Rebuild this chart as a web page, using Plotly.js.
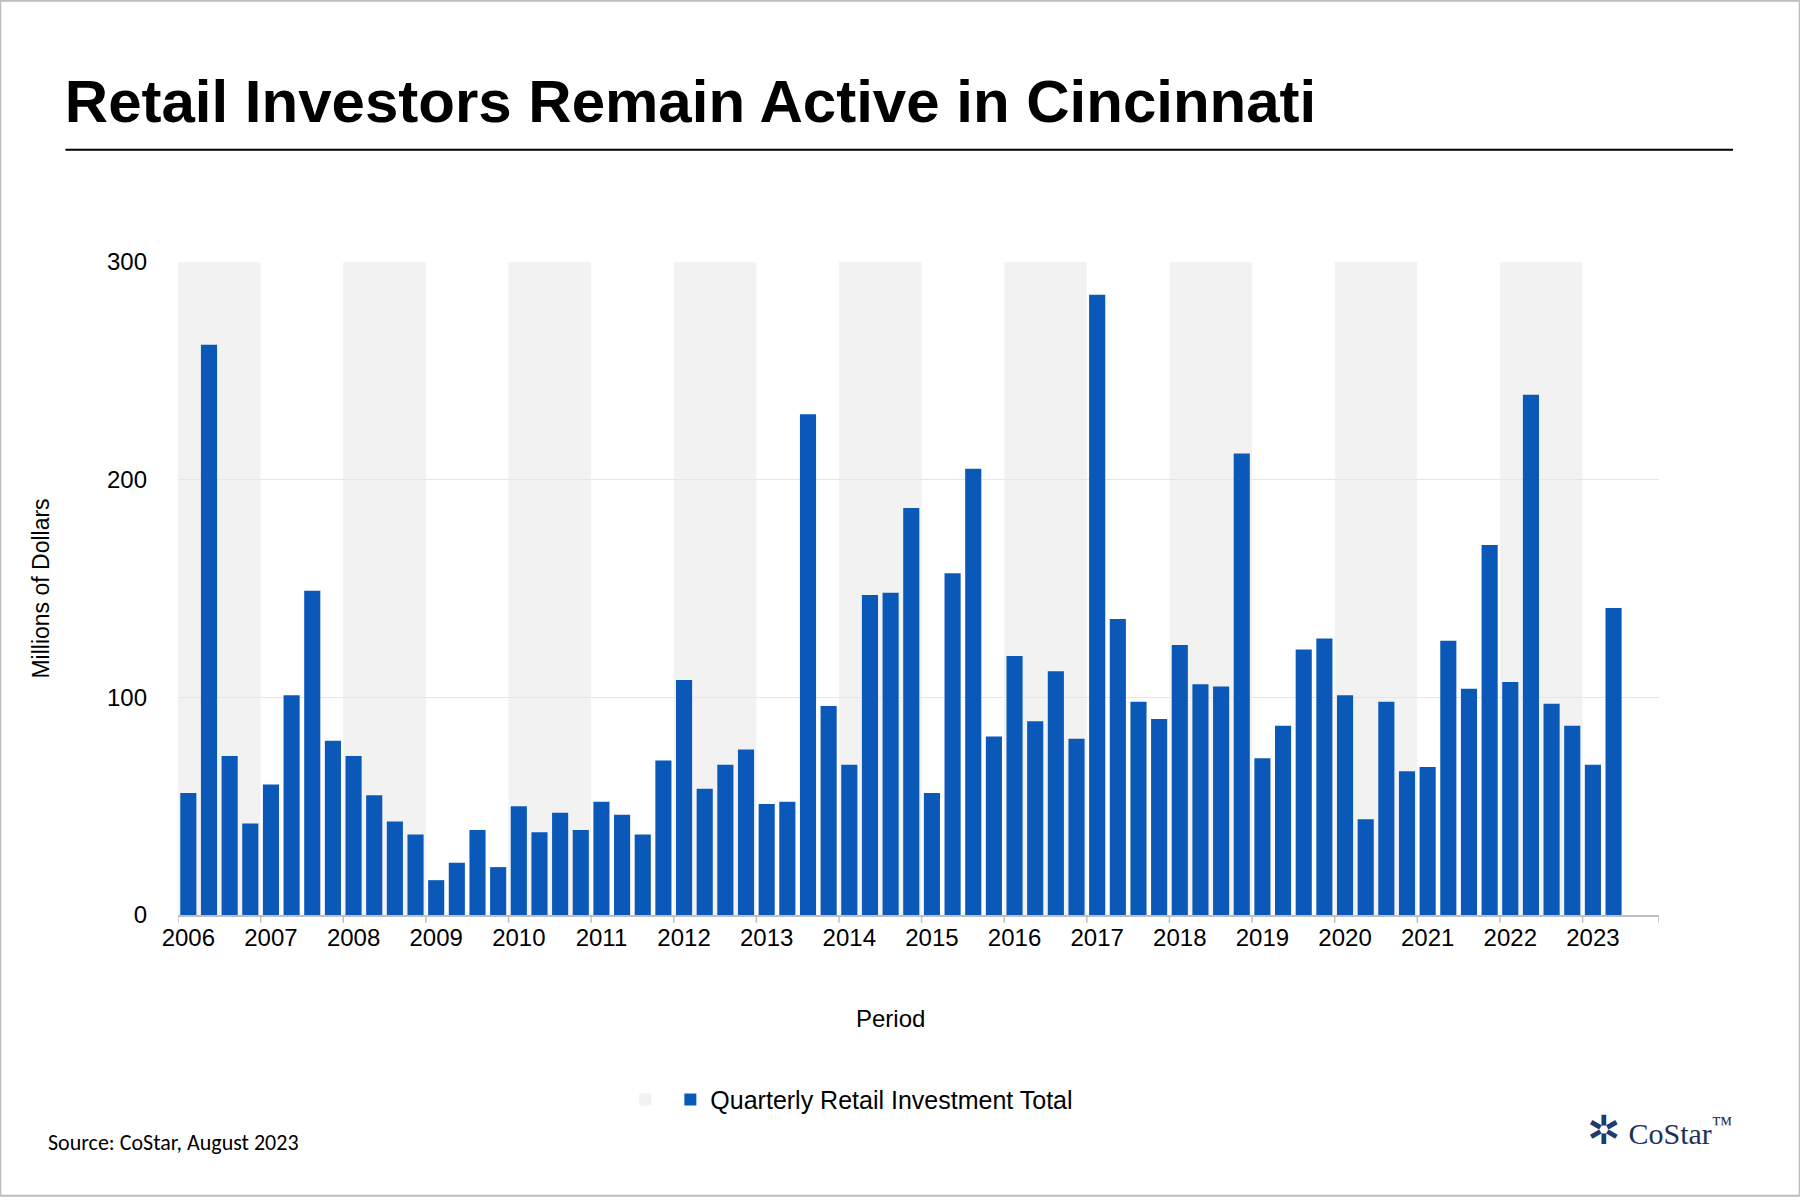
<!DOCTYPE html>
<html><head><meta charset="utf-8">
<script src="https://cdn.plot.ly/plotly-3.0.1.min.js"></script>
<style>body{margin:0;background:#fff}#c{width:1800px;height:1200px}</style>
</head><body><div id="c"></div>
<script>
const years = ['2006','2007','2008','2009','2010','2011','2012','2013','2014','2015','2016','2017','2018','2019','2020','2021','2022','2023'];
const values = [56,262,73,42, 60,101,149,80, 73,55,43,37, 16,24,39,22, 50,38,47,39, 52,46,37,71,
  108,58,69,76, 51,52,230,96, 69,147,148,187, 56,157,205,82, 119,89,112,81, 285,136,98,90,
  124,106,105,212, 72,87,122,127, 101,44,98,66, 68,126,104,170, 107,239,97,87, 69,141];
const seriesName = 'Quarterly Retail Investment Total';
const idx = values.map((v,i)=>i);
const shapes = [];
years.forEach((y,k)=>{
  if(k%2===0) shapes.push({type:'rect',xref:'x',yref:'y',x0:4*k-0.5,x1:4*k+3.5,y0:0,y1:300,fillcolor:'#f2f2f2',line:{width:0},layer:'below'});
  shapes.push({type:'line',xref:'x',yref:'paper',x0:4*k-0.5,x1:4*k-0.5,y0:0,y1:-0.012,line:{color:'#bfbfbf',width:1.5}});
});
shapes.push({type:'line',xref:'x',yref:'paper',x0:71.2,x1:71.2,y0:0,y1:-0.012,line:{color:'#bfbfbf',width:1.5}});
shapes.push({type:'line',xref:'paper',yref:'paper',x0:-0.076,x1:1.05,y0:1.172,y1:1.172,line:{color:'#000',width:2}});
shapes.push({type:'rect',xref:'paper',yref:'paper',x0:-0.12,x1:1.095,y0:-0.43,y1:1.4,line:{color:'#bdbdbd',width:2},fillcolor:'rgba(0,0,0,0)'});
const data = [
  {type:'bar',x:[null],y:[null],name:'',marker:{color:'#f2f2f2'},showlegend:true,hoverinfo:'skip'},
  {type:'bar',x:idx,y:values,name:seriesName,marker:{color:'#0a58b8'},width:0.78}
];
const layout = {
  width:1800,height:1200,paper_bgcolor:'#fff',plot_bgcolor:'#fff',
  margin:{l:178,r:141,t:262,b:285},
  font:{family:'Liberation Sans, Arial, sans-serif',color:'#000'},
  title:{text:'<b>Retail Investors Remain Active in Cincinnati</b>',x:0.036,xanchor:'left',y:0.916,yanchor:'middle',font:{size:60,color:'#000'}},
  xaxis:{range:[-0.5,71.2],tickvals:years.map((y,k)=>4*k),ticktext:years,ticks:'',showgrid:false,zeroline:false,
    showline:true,linecolor:'#bfbfbf',linewidth:2,tickfont:{size:24}},
  yaxis:{range:[0,300],dtick:100,showgrid:true,gridcolor:'#e6e6e6',zeroline:false,tickfont:{size:24},ticks:'',ticklabelstandoff:30,
    title:{text:'Millions of Dollars',font:{size:23},standoff:50}},
  shapes:shapes,
  showlegend:true,
  legend:{orientation:'h',x:0.455,xanchor:'center',y:-0.283,yanchor:'middle',font:{size:25},itemwidth:30,traceorder:'normal'},
  bargap:0.2,
  annotations:[
    {xref:'paper',yref:'paper',x:0.481,y:-0.158,xanchor:'center',yanchor:'middle',showarrow:false,text:'Period',font:{size:24}},
    {xref:'paper',yref:'paper',x:-0.089,y:-0.348,xanchor:'left',yanchor:'middle',showarrow:false,text:'Source: CoStar, August 2023',font:{family:'Carlito, Liberation Sans, sans-serif',size:22}},
    {xref:'paper',yref:'paper',x:0.95,y:-0.33,xanchor:'left',yanchor:'middle',showarrow:false,text:'<span style="color:#1f3a6e;font-size:40px">✲</span> CoStar<sup style="font-size:10px">™</sup>',font:{family:'Liberation Serif, serif',size:30,color:'#1f2f55'}}
  ]
};
Plotly.newPlot('c',data,layout,{displayModeBar:false});
</script></body></html>
